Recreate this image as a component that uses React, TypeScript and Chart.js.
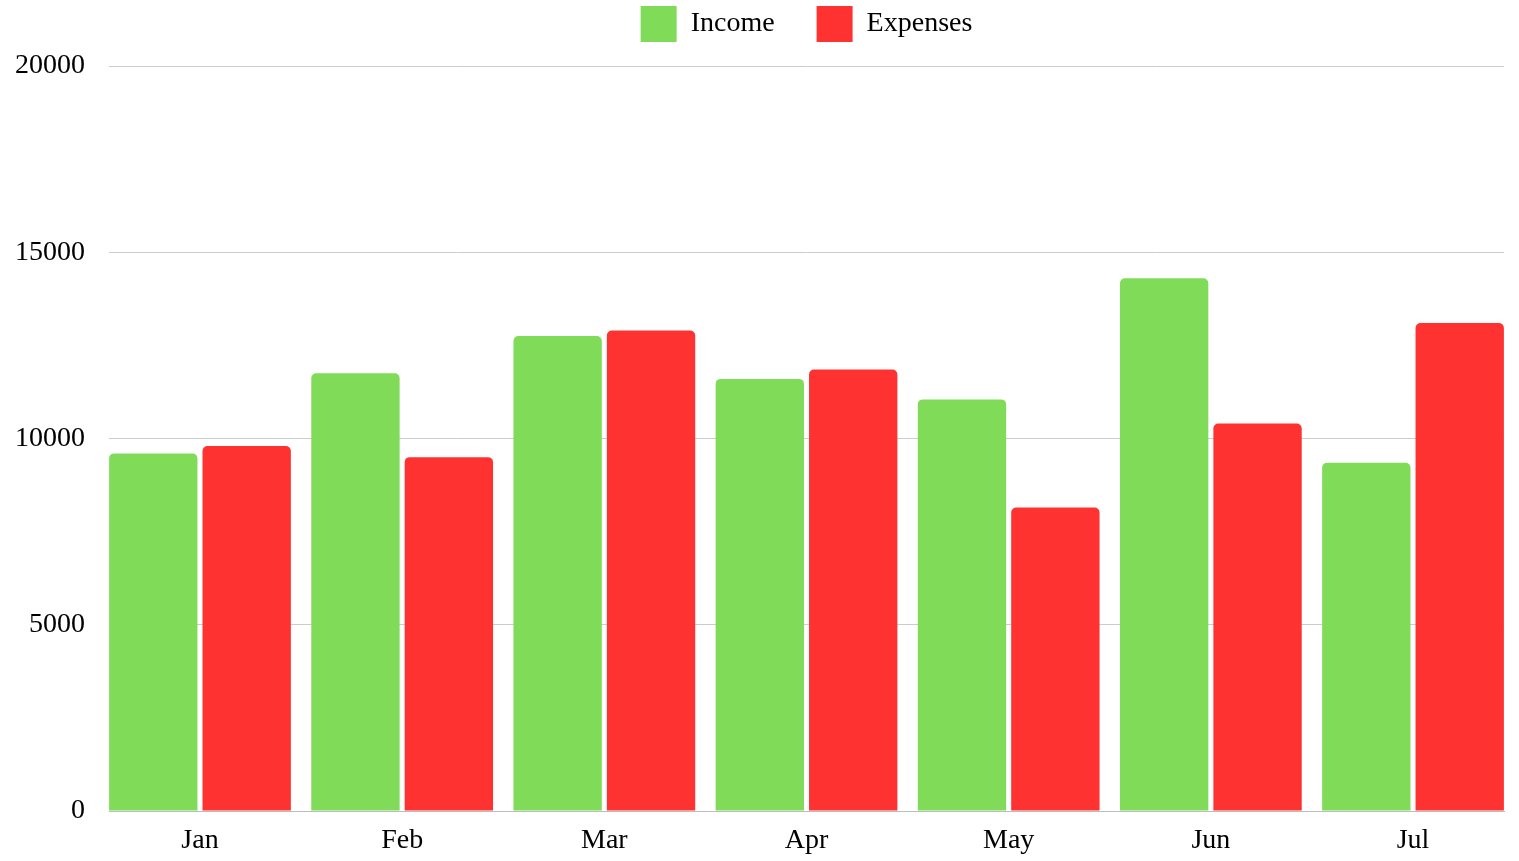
import React, { useEffect, useRef } from "react";
import { Chart, registerables } from "chart.js";

Chart.register(...registerables);

const months = ["Jan", "Feb", "Mar", "Apr", "May", "Jun", "Jul"];
const income = [9600, 11750, 12750, 11600, 11050, 14300, 9350];
const expenses = [9800, 9500, 12900, 11850, 8150, 10400, 13100];
const yTicks = [0, 5000, 10000, 15000, 20000];

const FONT = "'Liberation Serif', 'DejaVu Serif', serif";

export default function App() {
  const ref = useRef<HTMLCanvasElement | null>(null);

  useEffect(() => {
    if (!ref.current) return;
    const chart = new Chart(ref.current, {
      type: "bar",
      data: {
        datasets: [
          {
            label: "Income",
            data: income.map((v, i) => ({ x: i, y: v })),
            backgroundColor: "#80DB59",
            borderRadius: { topLeft: 5, topRight: 5, bottomLeft: 0, bottomRight: 0 },
            borderSkipped: false,
            categoryPercentage: 0.924,
            barPercentage: 0.946,
          },
          {
            label: "Expenses",
            data: expenses.map((v, i) => ({ x: i, y: v })),
            backgroundColor: "#FF3232",
            borderRadius: { topLeft: 5, topRight: 5, bottomLeft: 0, bottomRight: 0 },
            borderSkipped: false,
            categoryPercentage: 0.924,
            barPercentage: 0.946,
          },
        ],
      },
      options: {
        animation: false,
        responsive: true,
        maintainAspectRatio: false,
        layout: { padding: { top: -36, right: 15, left: 0, bottom: 0 } },
        plugins: {
          tooltip: { enabled: false },
          title: {
            display: true,
            text: "",
            weight: 500,
            position: "top",
            fullSize: false,
            font: { size: 1, lineHeight: 1 },
            padding: { top: 13, bottom: 0 },
          },
          legend: {
            display: true,
            position: "top",
            fullSize: false,
            labels: {
              boxWidth: 36,
              boxHeight: 36,
              padding: 42,
              color: "#000",
              font: { family: FONT, size: 28 },
            },
          },
        },
        scales: {
          x: {
            type: "linear",
            min: -0.45,
            max: 6.45,
            offset: false,
            grid: { display: false, offset: false, drawTicks: false },
            border: { display: true, color: "#bdbdbd", width: 1 },
            ticks: {
              stepSize: 1,
              includeBounds: false,
              autoSkip: false,
              maxRotation: 0,
              padding: 13,
              color: "#000",
              font: { family: FONT, size: 28 },
              callback: (v: any) => (Number.isInteger(v) && months[v] !== undefined ? months[v] : ""),
            },
            afterFit: (s: any) => {
              s.height = 50;
            },
          },
          y: {
            min: yTicks[0],
            max: yTicks[yTicks.length - 1],
            grid: { color: "#cccccc", drawTicks: false, lineWidth: 1 },
            border: { display: false },
            afterBuildTicks: (s: any) => {
              s.ticks = yTicks.map((v) => ({ value: v }));
            },
            ticks: {
              padding: 24,
              color: "#000",
              font: { family: FONT, size: 28 },
              callback: (v: any) => String(v),
            },
            afterFit: (s: any) => {
              s.width = 109;
            },
          },
        },
      },
    });
    return () => chart.destroy();
  }, []);

  return (
    <div style={{ position: "fixed", left: 0, top: 0, width: 1519, height: 861, background: "#fff" }}>
      <canvas ref={ref} />
    </div>
  );
}
